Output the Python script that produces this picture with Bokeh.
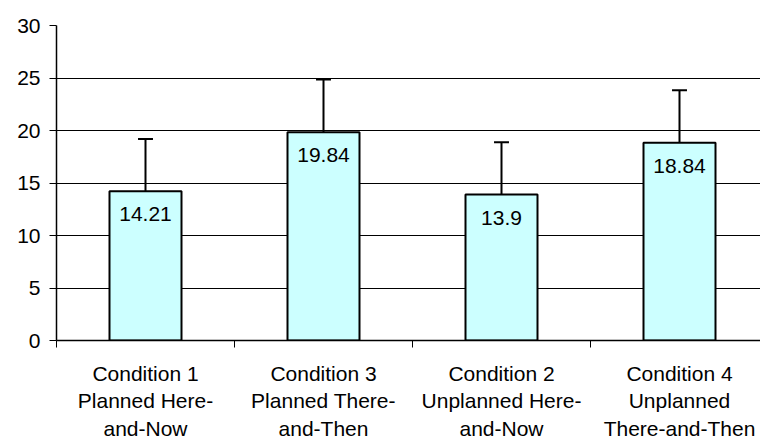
from bokeh.plotting import figure
from bokeh.models import FixedTicker, Range1d, ColumnDataSource
from bokeh.embed import file_html
from bokeh.resources import INLINE
from bokeh.core.properties import value

# ---- data ----
categories = [
    "Condition 1\nPlanned Here-\nand-Now",
    "Condition 3\nPlanned There-\nand-Then",
    "Condition 2\nUnplanned Here-\nand-Now",
    "Condition 4\nUnplanned\nThere-and-Then",
]
means = [14.21, 19.84, 13.9, 18.84]
sds = [4.99, 5.02, 4.99, 4.99]
y_ticks = [0, 5, 10, 15, 20, 25, 30]

FONT = "Liberation Sans"

positions = [i + 0.5 for i in range(len(categories))]
boundaries = [float(i) for i in range(len(categories))]

FRAME_W = 704
CAT_W = 178

p = figure(
    frame_width=FRAME_W, frame_height=315,
    output_backend="svg", toolbar_location=None,
    x_range=Range1d(0, FRAME_W / CAT_W), y_range=Range1d(0, 30),
    min_border_left=56, min_border_right=0, min_border_top=25, min_border_bottom=0,
)
p.outline_line_color = None
p.background_fill_color = "white"
p.border_fill_color = "white"

# grid
p.xgrid.grid_line_color = None
p.ygrid.grid_line_color = "#000000"
p.ygrid.grid_line_width = 1
p.ygrid.ticker = FixedTicker(ticks=y_ticks)

# y axis
p.yaxis.ticker = FixedTicker(ticks=y_ticks)
p.yaxis.axis_line_color = "black"
p.yaxis.axis_line_width = 1.5
p.yaxis.major_tick_line_color = "black"
p.yaxis.major_tick_out = 7
p.yaxis.major_tick_in = 0
p.yaxis.minor_tick_line_color = None
p.yaxis.major_label_text_font = FONT
p.yaxis.major_label_text_font_size = "21px"
p.yaxis.major_label_text_color = "black"
p.yaxis.major_label_standoff = 9

# x axis
p.xaxis.ticker = FixedTicker(ticks=positions, minor_ticks=boundaries)
p.xaxis.major_label_overrides = {pos: lab for pos, lab in zip(positions, categories)}
p.xaxis.axis_line_color = "black"
p.xaxis.axis_line_width = 1.5
p.xaxis.major_tick_line_color = None
p.xaxis.major_tick_out = 0
p.xaxis.major_tick_in = 0
p.xaxis.minor_tick_line_color = "black"
p.xaxis.minor_tick_line_width = 1
p.xaxis.minor_tick_out = 7
p.xaxis.minor_tick_in = 0
p.xaxis.major_label_text_font = FONT
p.xaxis.major_label_text_font_size = "21px"
p.xaxis.major_label_text_color = "black"
p.xaxis.major_label_standoff = 14

src = ColumnDataSource(dict(
    x=positions,
    top=means,
    upper=[m + s for m, s in zip(means, sds)],
    cap_l=[x - 0.042 for x in positions],
    cap_r=[x + 0.042 for x in positions],
    label=[f"{m:g}" for m in means],
))

# error bars (upper only)
p.segment(x0="x", y0="top", x1="x", y1="upper", source=src, line_color="black", line_width=2)
p.segment(x0="cap_l", y0="upper", x1="cap_r", y1="upper", source=src, line_color="black", line_width=2)

# bars
p.vbar(x="x", top="top", bottom=0, width=72 / CAT_W, source=src,
       fill_color="#CCFFFF", line_color="black", line_width=2)

# value labels
p.text(x="x", y="top", text="label", source=src, text_align="center",
       text_baseline="middle", y_offset=23, text_font=value(FONT),
       text_font_size="21px", text_color="black")

open("out.html", "w").write(file_html(p, INLINE))
